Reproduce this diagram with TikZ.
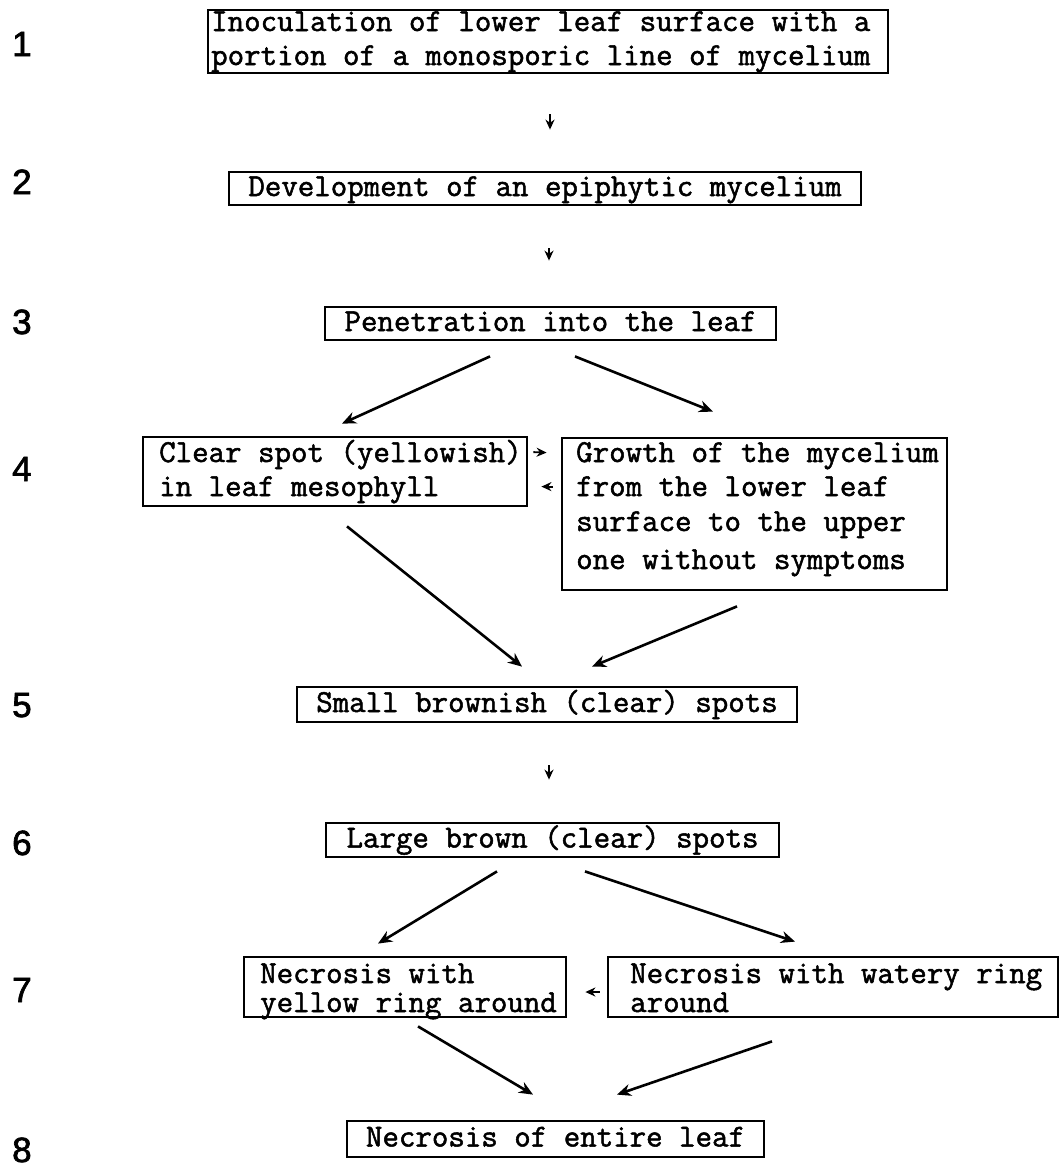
\documentclass[tikz,border=0pt]{standalone}
\usepackage{fontspec}
\setmainfont{Liberation Sans}[FakeBold=2]
\setmonofont{Latin Modern Mono}[FakeBold=1.6]
\usetikzlibrary{arrows.meta}
\begin{document}
\begin{tikzpicture}[x=1pt,y=-1pt,
  box/.style={draw, line width=2.8pt, inner sep=0pt, minimum width=#1, text height=20pt, text depth=5pt,
              font=\ttfamily\fontsize{32}{35}\selectfont},
  box/.default=100pt,
  txt/.style={anchor=base west, inner sep=0pt, font=\ttfamily\fontsize{32}{35}\selectfont},
  num/.style={anchor=base west, inner sep=0pt, font=\fontsize{35}{40}\selectfont},
  arr/.style={line width=2.6pt, -{Stealth[length=14pt,width=12pt]}},
  sarr/.style={line width=1.8pt, -{Stealth[length=10pt,width=9pt]}}]
\useasboundingbox (0,0) rectangle (1062,1170);
% step numbers
\node[num] (n1) at (12,56) {1};
\node[num] (n2) at (12,194) {2};
\node[num] (n3) at (12,334) {3};
\node[num] (n4) at (12,481) {4};
\node[num] (n5) at (12,717) {5};
\node[num] (n6) at (12,855) {6};
\node[num] (n7) at (12,1002) {7};
\node[num] (n8) at (12,1162) {8};
% boxes
\node[box=680pt, minimum height=63pt, text height=0pt, text depth=0pt] (b1) at (548,41.5) {};
\node[txt] (t1a) at (211,31) {Inoculation of lower leaf surface with a};
\node[txt] (t1b) at (211,65) {portion of a monosporic line of mycelium};
\node[box=632pt, minimum height=33pt] (b2) at (545,188.5) {Development of an epiphytic mycelium};
\node[box=451pt, minimum height=33pt] (b3) at (550.5,323.5) {Penetration into the leaf};
\node[box=384pt, minimum height=69pt, text height=0pt, text depth=0pt] (b4l) at (335,471.5) {};
\node[txt] (t4la) at (159,462) {Clear spot (yellowish)};
\node[txt] (t4lb) at (159,496) {in leaf mesophyll};
\node[box=385pt, minimum height=152pt, text height=0pt, text depth=0pt] (b4r) at (754.5,514) {};
\node[txt] (t4ra) at (576,462) {Growth of the mycelium};
\node[txt] (t4rb) at (576,496) {from the lower leaf};
\node[txt] (t4rc) at (576,531) {surface to the upper};
\node[txt] (t4rd) at (576,569) {one without symptoms};
\node[box=500pt, minimum height=35pt] (b5) at (547,704.5) {Small brownish (clear) spots};
\node[box=453pt, minimum height=34pt] (b6) at (552.5,840) {Large brown (clear) spots};
\node[box=322pt, minimum height=60pt, text height=0pt, text depth=0pt] (b7l) at (405,987) {};
\node[txt] (t7la) at (260,983) {Necrosis with};
\node[txt] (t7lb) at (260,1012) {yellow ring around};
\node[box=450pt, minimum height=60pt, text height=0pt, text depth=0pt] (b7r) at (833,987) {};
\node[txt] (t7ra) at (630,983) {Necrosis with watery ring};
\node[txt] (t7rb) at (630,1012) {around};
\node[box=417pt, minimum height=36pt] (b8) at (555.5,1139) {Necrosis of entire leaf};
% connectors
\draw[sarr] ([xshift=2pt,yshift=-40pt]b1.south) -- ([xshift=5pt,yshift=41pt]b2.north);
\draw[sarr] ([xshift=4pt,yshift=-42pt]b2.south) -- ([xshift=-1.5pt,yshift=45pt]b3.north);
\draw[arr] ([xshift=-60.5pt,yshift=-15pt]b3.south) -- ([xshift=7pt,yshift=12pt]b4l.north);
\draw[arr] ([xshift=24.5pt,yshift=-15pt]b3.south) -- ([xshift=-41.5pt,yshift=25pt]b4r.north);
\draw[sarr] ([xshift=5pt,yshift=-16.5pt]b4l.north east) -- ([xshift=-14pt,yshift=-16pt]b4r.north west);
\draw[sarr] ([xshift=-8pt,yshift=-50pt]b4r.north west) -- ([xshift=13pt,yshift=-51pt]b4l.north east);
\draw[arr] ([xshift=12pt,yshift=-19pt]b4l.south) -- ([xshift=-25pt,yshift=19pt]b5.north);
\draw[arr] ([xshift=-17.5pt,yshift=-15pt]b4r.south) -- ([xshift=45pt,yshift=19pt]b5.north);
\draw[sarr] ([xshift=2pt,yshift=-42pt]b5.south) -- ([xshift=-3.5pt,yshift=42pt]b6.north);
\draw[arr] ([xshift=-55.5pt,yshift=-13pt]b6.south) -- ([xshift=-27pt,yshift=12pt]b7l.north);
\draw[arr] ([xshift=32.5pt,yshift=-13pt]b6.south) -- ([xshift=-38pt,yshift=14pt]b7r.north);
\draw[sarr] ([xshift=-7pt,yshift=-5pt]b7r.west) -- ([xshift=18pt,yshift=-5pt]b7l.east);
\draw[arr] ([xshift=13pt,yshift=-8pt]b7l.south) -- ([xshift=-22.5pt,yshift=25pt]b8.north);
\draw[arr] ([xshift=-61pt,yshift=-23pt]b7r.south) -- ([xshift=61.5pt,yshift=25pt]b8.north);
\end{tikzpicture}
\end{document}
